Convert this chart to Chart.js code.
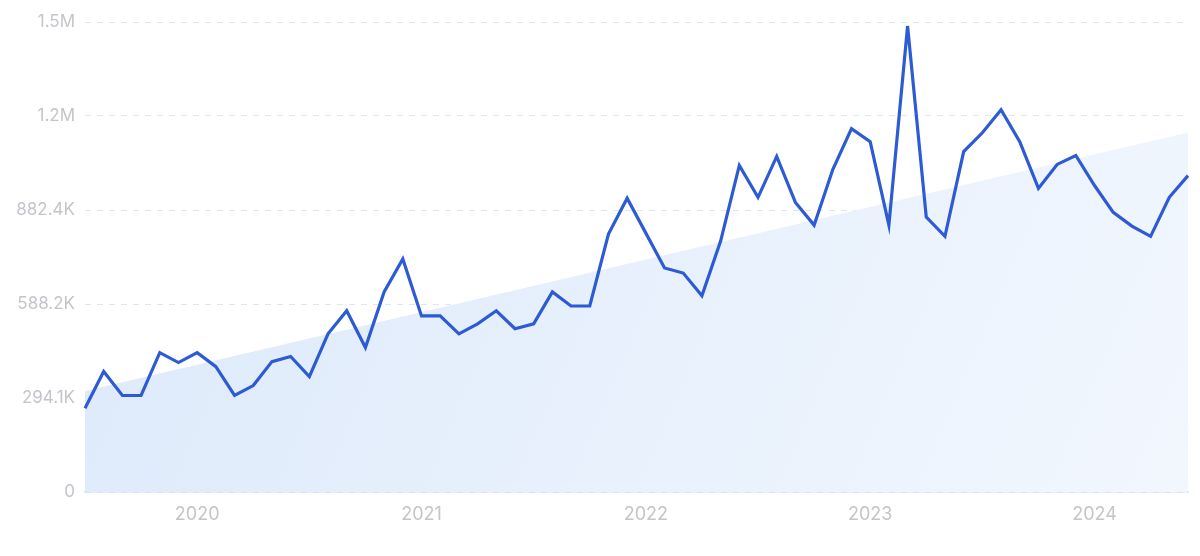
<!DOCTYPE html>
<html>
<head>
    <title>Monthly searches</title>
    <script src="https://cdn.jsdelivr.net/npm/chart.js"></script>
    <style>
        body { margin: 0; background: #fff; }
        #c { display: block; }
    </style>
</head>
<body>
    <canvas id="c" width="1200" height="556"></canvas>
</body>
<script>
    // months Jul 2019 .. Jun 2024
    var months = [
        '2019-07','2019-08','2019-09','2019-10','2019-11','2019-12',
        '2020-01','2020-02','2020-03','2020-04','2020-05','2020-06','2020-07','2020-08','2020-09','2020-10','2020-11','2020-12',
        '2021-01','2021-02','2021-03','2021-04','2021-05','2021-06','2021-07','2021-08','2021-09','2021-10','2021-11','2021-12',
        '2022-01','2022-02','2022-03','2022-04','2022-05','2022-06','2022-07','2022-08','2022-09','2022-10','2022-11','2022-12',
        '2023-01','2023-02','2023-03','2023-04','2023-05','2023-06','2023-07','2023-08','2023-09','2023-10','2023-11','2023-12',
        '2024-01','2024-02','2024-03','2024-04','2024-05','2024-06'
    ];
    var volume = [
        262000, 377000, 302000, 302000, 436000, 405000,
        436000, 392000, 302000, 333000, 408000, 424000, 361000, 495000, 567000, 452000, 626000, 729000,
        551000, 551000, 495000, 526000, 567000, 511000, 526000, 626000, 582000, 582000, 807000, 919000,
        810000, 701000, 685000, 614000, 785000, 1022000, 922000, 1050000, 906000, 835000, 1009000, 1137000,
        1096000, 835000, 1458000, 860000, 800000, 1065000, 1124000, 1196000, 1096000, 950000, 1025000, 1053000,
        959000, 875000, 832000, 800000, 922000, 990000
    ];
    // trend line: start and end values
    var trendStart = 316000;
    var trendEnd = 1125000;
    var yTicks = [0, 294120, 588240, 882360, 1176480, 1470600];
    var yTickLabels = ['0', '294.1K', '588.2K', '882.4K', '1.2M', '1.5M'];

    var ctx = document.getElementById('c').getContext('2d');
    var chart = new Chart(ctx, {
        type: 'line',
        data: {
            labels: months,
            datasets: [{
                label: 'Searches',
                data: volume,
                borderColor: '#2d5bd3',
                borderWidth: 3.2,
                pointRadius: 0,
                tension: 0,
                fill: false,
                order: 0
            }, {
                label: 'Trend',
                data: [
                    { x: months[0], y: trendStart },
                    { x: months[months.length - 1], y: trendEnd }
                ],
                borderWidth: 0,
                borderColor: 'rgba(0,0,0,0)',
                pointRadius: 0,
                fill: 'origin',
                backgroundColor: function (c) {
                    var a = c.chart.chartArea;
                    if (!a) return 'rgba(222,234,250,1)';
                    var g = c.chart.ctx.createLinearGradient(a.left, a.top, a.right, a.bottom);
                    g.addColorStop(0, 'rgba(220,233,250,1)');
                    g.addColorStop(1, 'rgba(242,247,254,1)');
                    return g;
                },
                order: 1
            }]
        },
        options: {
            responsive: false,
            animation: false,
            layout: { padding: { top: 22, right: 12, left: 0, bottom: 0 } },
            plugins: { legend: { display: false }, tooltip: { enabled: false } },
            scales: {
                x: {
                    offset: false,
                    grid: { display: false },
                    border: { display: true, color: '#cfe0f5', width: 1.5 },
                    ticks: {
                        autoSkip: false,
                        maxRotation: 0,
                        color: '#c3c5ca',
                        font: { family: 'Inter', size: 18 },
                        padding: 4,
                        callback: function (v, i) {
                            var m = months[i];
                            return m.slice(5) === '01' ? m.slice(0, 4) : '';
                        }
                    },
                    afterFit: function (s) { s.height = 64; }
                },
                y: {
                    min: 0,
                    max: yTicks[yTicks.length - 1],
                    afterBuildTicks: function (s) {
                        s.ticks = yTicks.map(function (v) { return { value: v }; });
                    },
                    grid: { color: '#dde6f2', lineWidth: 1, drawTicks: false },
                    border: { display: false, dash: [6, 6] },
                    ticks: {
                        color: '#c3c5ca',
                        font: { family: 'Inter', size: 17 },
                        padding: 10,
                        callback: function (v) {
                            var i = yTicks.indexOf(v);
                            return i >= 0 ? yTickLabels[i] : '';
                        }
                    },
                    afterFit: function (s) { s.width = 85; }
                }
            }
        }
    });
</script>
</html>
